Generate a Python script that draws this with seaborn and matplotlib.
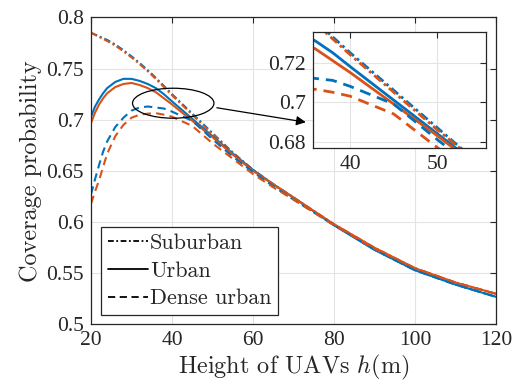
import numpy as np
import pandas as pd
import matplotlib
matplotlib.use("Agg")
import matplotlib.pyplot as plt
from matplotlib.patches import Ellipse
from matplotlib.lines import Line2D
import seaborn as sns

# ---- data ----
h = [20, 21, 22, 23, 24, 26, 28, 30, 32, 34, 36, 38, 40, 45, 50, 55, 60, 65, 70, 80, 90, 100, 110, 120]

suburban_blue = [0.785, 0.7833, 0.7815, 0.7798, 0.778, 0.7735, 0.768, 0.762, 0.7555, 0.7485, 0.741, 0.733,
                 0.725, 0.706, 0.687, 0.668, 0.651, 0.637, 0.624, 0.597, 0.573, 0.553, 0.539, 0.527]
suburban_orange = [0.785, 0.783, 0.781, 0.779, 0.777, 0.7725, 0.767, 0.761, 0.7545, 0.7475, 0.740, 0.732,
                   0.724, 0.705, 0.686, 0.668, 0.651, 0.637, 0.624, 0.598, 0.575, 0.555, 0.541, 0.530]
urban_blue = [0.703, 0.713, 0.720, 0.726, 0.731, 0.737, 0.740, 0.740, 0.738, 0.735, 0.731, 0.725,
              0.718, 0.701, 0.684, 0.667, 0.651, 0.637, 0.624, 0.597, 0.573, 0.553, 0.539, 0.527]
urban_orange = [0.697, 0.707, 0.715, 0.721, 0.726, 0.732, 0.735, 0.736, 0.734, 0.731, 0.727, 0.721,
                0.715, 0.699, 0.683, 0.666, 0.650, 0.637, 0.624, 0.598, 0.575, 0.555, 0.541, 0.530]
dense_blue = [0.627, 0.642, 0.656, 0.669, 0.679, 0.693, 0.702, 0.709, 0.712, 0.713, 0.712, 0.711,
              0.708, 0.699, 0.681, 0.664, 0.649, 0.635, 0.622, 0.597, 0.573, 0.553, 0.539, 0.527]
dense_orange = [0.618, 0.630, 0.641, 0.654, 0.667, 0.684, 0.695, 0.702, 0.705, 0.706, 0.7065, 0.705,
                0.703, 0.694, 0.677, 0.662, 0.647, 0.634, 0.622, 0.597, 0.574, 0.555, 0.541, 0.530]

xticks = [20, 40, 60, 80, 100, 120]
yticks = [0.5, 0.55, 0.6, 0.65, 0.7, 0.75, 0.8]
ytick_labels = ['0.5', '0.55', '0.6', '0.65', '0.7', '0.75', '0.8']
inset_xticks = [40, 50]
inset_yticks = [0.68, 0.70, 0.72]
inset_ytick_labels = ['0.68', '0.7', '0.72']
legend_labels = ['Suburban', 'Urban', 'Dense urban']

BLUE = '#0072BD'
ORANGE = '#D95319'
DASHDOT = (0, (3.2, 1.4, 1.0, 1.4))
DASHED = (0, (4.0, 2.5))

series = [
    (suburban_blue, BLUE, DASHDOT),
    (suburban_orange, ORANGE, DASHDOT),
    (urban_blue, BLUE, '-'),
    (urban_orange, ORANGE, '-'),
    (dense_blue, BLUE, DASHED),
    (dense_orange, ORANGE, DASHED),
]

sns.set_style("white")
plt.rcParams['mathtext.fontset'] = 'cm'
plt.rcParams['axes.unicode_minus'] = False

TICKFONT = 'Liberation Serif'
LABELFONT = 'cmr10'
SPINE = '#262626'
GRID = '#e3e3e3'

fig = plt.figure(figsize=(5.2, 3.88), dpi=100)
ax = fig.add_axes([0.175, 0.1637, 0.779, 0.7913])


def draw(a, lw):
    for vals, col, ls in series:
        df = pd.DataFrame({'h': h, 'p': vals})
        sns.lineplot(data=df, x='h', y='p', ax=a, color=col, linestyle=ls,
                     linewidth=lw, legend=False, sort=False)


def style_axes(a, fs):
    a.grid(True, color=GRID, linewidth=0.8)
    a.set_axisbelow(True)
    for s in a.spines.values():
        s.set_visible(True)
        s.set_color(SPINE)
        s.set_linewidth(0.9)
    a.tick_params(direction='in', length=4, width=0.8, color=SPINE,
                  top=True, right=True, labelsize=fs, labelcolor=SPINE, pad=5)
    for lab in a.get_xticklabels() + a.get_yticklabels():
        lab.set_fontfamily(TICKFONT)


draw(ax, 1.5)
ax.set_xlim(20, 120)
ax.set_ylim(0.5, 0.8)
ax.set_xticks(xticks)
ax.set_xticklabels([str(t) for t in xticks])
ax.set_yticks(yticks)
ax.set_yticklabels(ytick_labels)
style_axes(ax, 15.5)
ax.set_xlabel('Height of UAVs $h$(m)', fontsize=17.5, family=LABELFONT, color=SPINE, labelpad=2)
ax.set_ylabel('Coverage probability', fontsize=17.5, family=LABELFONT, color=SPINE, labelpad=3)

# ellipse and arrow
ell = Ellipse((40.3, 0.7162), 20.1, 0.0293, fill=False, edgecolor='black', linewidth=0.9, zorder=5)
ax.add_patch(ell)
ax.annotate('', xy=(73.7, 0.6972), xytext=(50.4, 0.7122),
            arrowprops=dict(arrowstyle='-|>', color='black', lw=0.9, mutation_scale=14),
            zorder=6)

# legend
handles = [Line2D([0], [0], color='black', linestyle=DASHDOT, lw=1.3),
           Line2D([0], [0], color='black', linestyle='-', lw=1.3),
           Line2D([0], [0], color='black', linestyle=DASHED, lw=1.3)]
leg = ax.legend(handles, legend_labels, loc='lower left', bbox_to_anchor=(0.025, 0.031),
                borderaxespad=0, frameon=True, fancybox=False, framealpha=1,
                edgecolor=SPINE, handlelength=1.8, handletextpad=0.1,
                labelspacing=0.36, borderpad=0.3, prop={'family': LABELFONT, 'size': 16})
leg.get_frame().set_linewidth(0.9)
leg.set_zorder(10)

# inset
axin = fig.add_axes([0.602, 0.6186, 0.333, 0.299])
draw(axin, 2.0)
axin.set_xlim(35.75, 55.6)
axin.set_ylim(0.6768, 0.7355)
axin.set_xticks(inset_xticks)
axin.set_xticklabels([str(t) for t in inset_xticks])
axin.set_yticks(inset_yticks)
axin.set_yticklabels(inset_ytick_labels)
style_axes(axin, 15.5)
axin.set_xlabel('')
axin.set_ylabel('')
axin.set_facecolor('white')

fig.savefig('out.png', dpi=100)
